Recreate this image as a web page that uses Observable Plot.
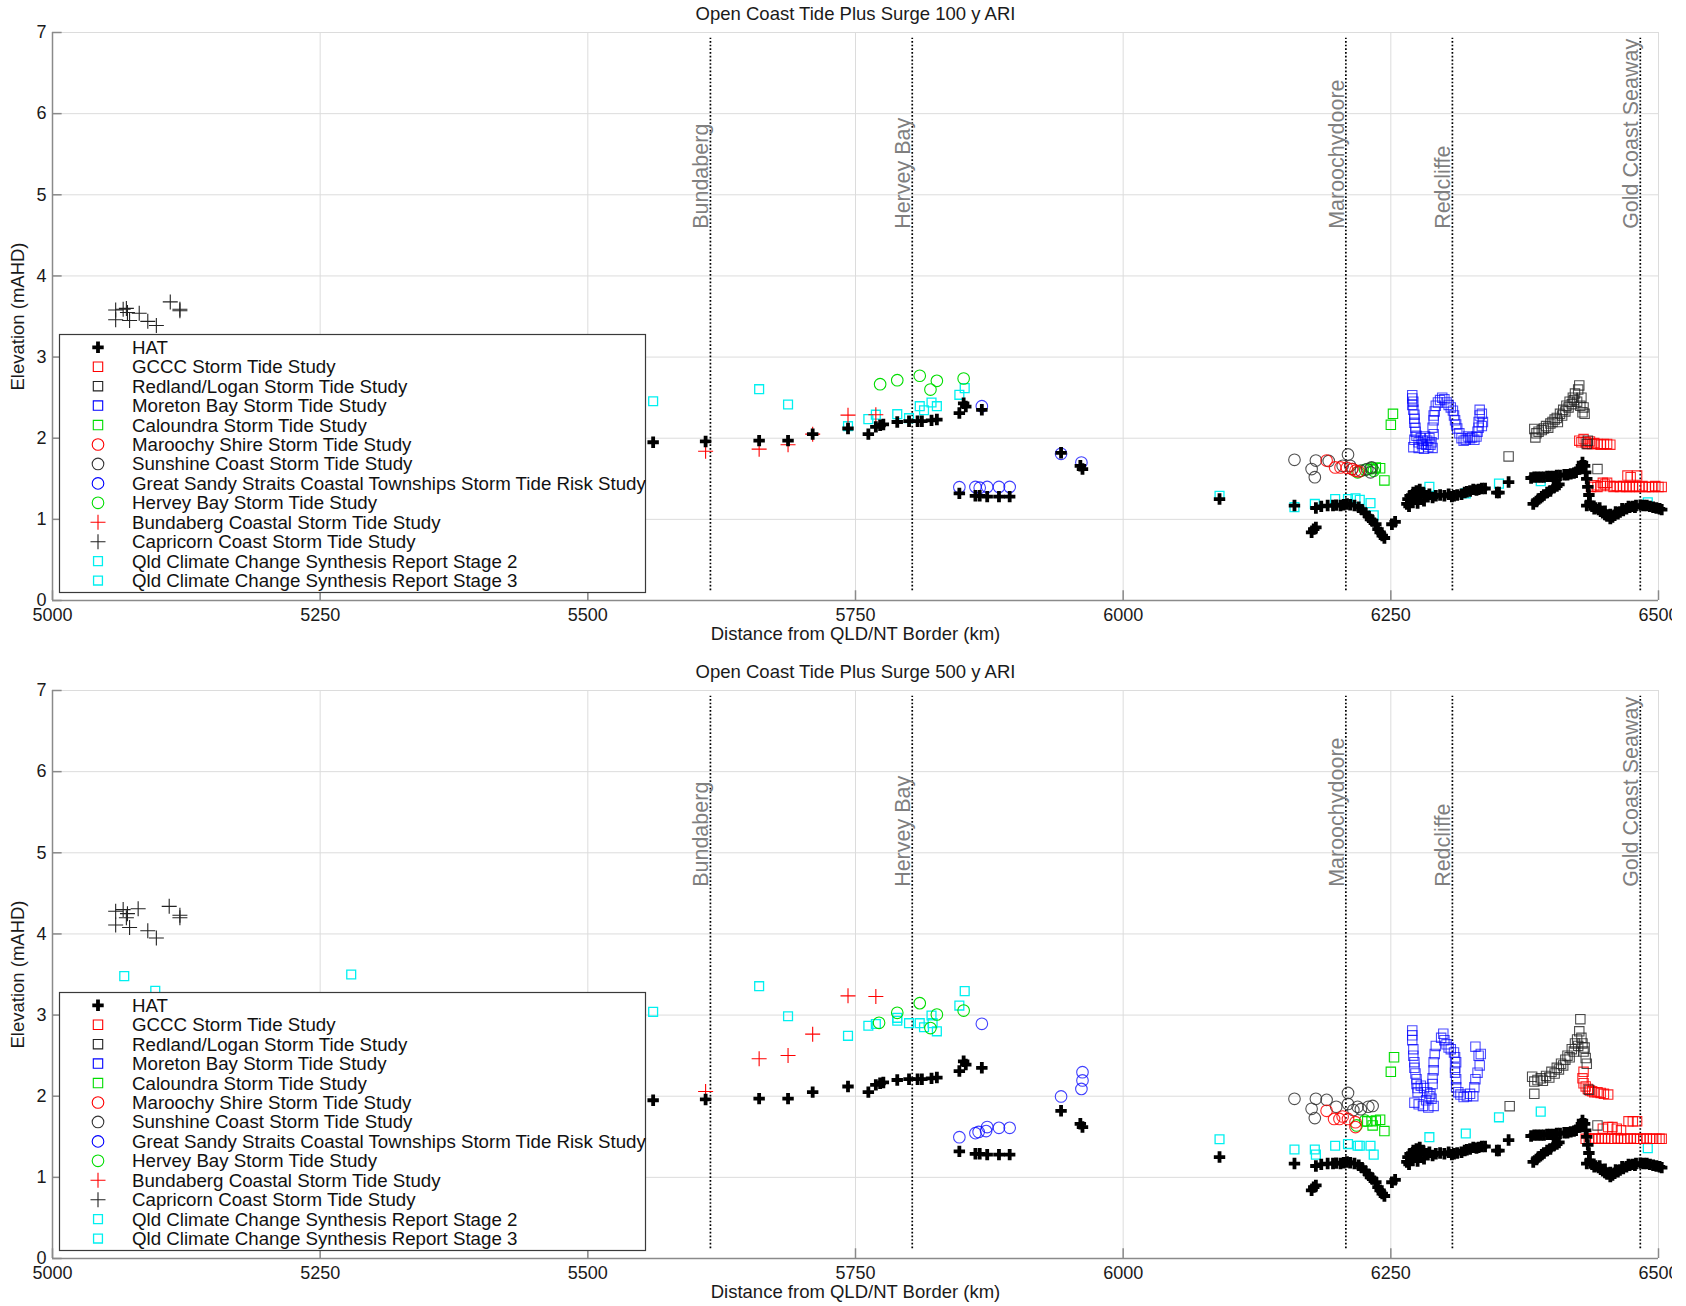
<!DOCTYPE html>
<html><head><meta charset="utf-8">
<script src="https://cdn.jsdelivr.net/npm/d3@7"></script>
<script src="https://cdn.jsdelivr.net/npm/@observablehq/plot@0.6"></script>
<style>
body{margin:0;background:#fff;font-family:"Liberation Sans",Arial,sans-serif;}
#wrap{width:1672px;overflow:hidden;background:#fff}
#wrap svg{display:block;max-width:none !important;width:1686px}
</style></head><body><div id="wrap"></div>
<script>
// ---------- axis ticks & annotations ----------
const xTicks = [5000, 5250, 5500, 5750, 6000, 6250, 6500];
const yTicks = [0, 1, 2, 3, 4, 5, 6, 7];
const places = ["Bundaberg", "Hervey Bay", "Maroochydoore", "Redcliffe", "Gold Coast Seaway"];
const placeKm = [5614.5, 5803, 6208, 6307.5, 6483];
const placeLabelElev = [4.58, 4.58, 4.58, 4.58, 4.58];
const titles = ["Open Coast Tide Plus Surge 100 y ARI", "Open Coast Tide Plus Surge 500 y ARI"];
const xLabel = "Distance from QLD/NT Border (km)";
const yLabel = "Elevation (mAHD)";

// ---------- series names ----------
const seriesNames = [
  "HAT",
  "GCCC Storm Tide Study",
  "Redland/Logan Storm Tide Study",
  "Moreton Bay Storm Tide Study",
  "Caloundra Storm Tide Study",
  "Maroochy Shire Storm Tide Study",
  "Sunshine Coast Storm Tide Study",
  "Great Sandy Straits Coastal Townships Storm Tide Risk Study",
  "Hervey Bay Storm Tide Study",
  "Bundaberg Coastal Storm Tide Study",
  "Capricorn Coast Storm Tide Study",
  "Qld Climate Change Synthesis Report Stage 2",
  "Qld Climate Change Synthesis Report Stage 3"
];

// ---------- data: [km, elevation] ----------
const hat = [
[5561,1.95],[5610,1.96],[5660,1.97],[5687,1.97],[5710,2.05],[5743,2.12],[5762,2.05],[5769,2.14],[5773,2.16],[5776,2.17],[5789,2.2],[5800,2.21],[5808,2.21],[5812,2.21],[5821,2.22],[5826,2.23],[5847,2.31],[5851,2.43],[5853,2.39],[5868,2.35],
[5847,1.32],[5862,1.29],[5866,1.29],[5873,1.28],[5884,1.28],[5894,1.28],
[5942,1.82],[5960,1.66],[5962,1.62],[6090,1.25],
[6160,1.17],[6176,0.84],[6178,0.88],[6180,0.9],
[6180,1.14],[6185,1.16],[6191,1.17],[6196,1.17],[6199,1.175],[6203,1.17],[6206,1.18],[6209,1.19],[6212,1.18],[6216,1.17],[6220,1.15],[6223,1.12],[6226,1.08],[6229,1.04],[6231,1.0],[6233,0.98],[6236,0.94],[6238,0.88],[6240,0.84],[6242,0.8],[6244,0.77],[6251,0.94],[6254,0.97],
[6265,1.19],[6266,1.25],[6267,1.16],[6268,1.29],[6269,1.21],[6271,1.33],[6272,1.25],[6274,1.35],[6275,1.2],[6277,1.37],[6278,1.28],[6280,1.33],[6281,1.23],[6283,1.29],[6286,1.31],[6289,1.27],[6292,1.29],[6296,1.3],[6300,1.29],[6304,1.31],[6307,1.28],[6309,1.29],[6312,1.3],[6316,1.31],[6319,1.33],[6321,1.34],[6324,1.35],[6327,1.37],[6330,1.36],[6332,1.37],[6335,1.38],[6338,1.38],[6349,1.33],[6351,1.33],[6360,1.46],
[6383,1.19],[6386,1.22],[6388,1.25],[6391,1.28],[6393,1.3],[6396,1.33],[6399,1.35],[6402,1.39],[6405,1.41],[6407,1.43],
[6381,1.51],[6384,1.52],[6387,1.52],[6390,1.52],[6393,1.52],[6396,1.53],[6399,1.53],[6402,1.53],[6405,1.54],[6408,1.54],[6412,1.55],[6415,1.55],[6418,1.56],[6421,1.57],[6423,1.58],[6426,1.62],[6428,1.66],[6429,1.7],[6431,1.66],[6432,1.58],[6433,1.5],[6434,1.4],[6435,1.3],[6436,1.21],
[6433,1.17],[6438,1.16],[6441,1.14],[6444,1.12],[6446,1.1],[6448,1.08],[6450,1.06],[6452,1.04],[6455,1.01],[6457,1.03],[6459,1.05],[6462,1.07],[6464,1.09],[6467,1.11],[6470,1.13],[6473,1.15],[6476,1.16],[6479,1.17],[6483,1.175],[6486,1.17],[6489,1.17],[6492,1.16],[6495,1.15],[6498,1.14],[6501,1.13],[6503,1.12],
[6440,1.13],[6445,1.14],[6450,1.1],[6455,1.06],[6460,1.09],[6466,1.13],[6472,1.16],[6478,1.15]
];

// 100 y ARI
const gccc100 = [
[6426,1.97],[6428,1.95],[6430,1.99],[6432,1.95],[6434,1.93],[6436,1.96],[6438,1.93],[6440,1.94],[6443,1.93],[6446,1.92],[6449,1.93],[6452,1.93],[6455,1.92],
[6437,1.40],[6440,1.42],[6443,1.40],[6446,1.41],[6448,1.45],[6450,1.43],[6452,1.45],[6455,1.41],[6458,1.40],[6461,1.41],[6464,1.40],[6467,1.41],[6470,1.40],[6473,1.40],[6476,1.41],[6479,1.40],[6482,1.40],[6485,1.41],[6488,1.40],[6491,1.40],[6494,1.40],[6497,1.41],[6500,1.40],[6503,1.40],[6471,1.54],[6474,1.52],[6480,1.54]
];
const redland100 = [
[6360,1.775],[6384,2.115],[6385,2.01],[6386,2.06],[6388,2.08],[6391,2.1],[6393,2.12],[6395,2.15],[6397,2.13],[6399,2.18],[6401,2.2],[6403,2.23],[6405,2.25],[6406,2.2],[6408,2.3],[6410,2.28],[6411,2.35],[6413,2.33],[6414,2.4],[6416,2.38],[6417,2.45],[6419,2.42],[6420,2.5],[6421,2.47],[6422,2.55],[6424,2.45],[6425,2.6],[6426,2.65],[6427,2.4],[6428,2.5],[6429,2.32],[6430,2.38],[6431,2.3],[6433,1.93],[6434,1.97],[6443,1.62]
];
const moreton100 = [
[6270,2.53],[6270,2.49],[6271,2.45],[6270,2.41],[6271,2.35],[6272,2.29],[6272,2.24],[6272,2.19],[6273,2.13],[6273,2.08],[6274,2.03],[6272,1.98],[6271,1.89],[6276,1.95],[6278,2.0],[6280,1.97],[6282,2.02],[6284,1.97],[6286,2.0],[6288,1.95],[6276,1.88],[6281,1.87],[6285,1.89],[6289,1.88],[6279,1.93],[6283,1.92],[6287,1.92],[6290,2.05],[6289,2.13],[6290,2.22],[6290,2.28],[6291,2.33],[6292,2.4],[6294,2.44],[6296,2.47],[6298,2.5],[6300,2.48],[6302,2.44],[6304,2.41],[6306,2.38],[6308,2.34],[6309,2.28],[6310,2.22],[6311,2.17],[6312,2.12],[6314,2.06],[6316,2.0],[6318,1.97],[6320,1.98],[6322,2.02],[6324,2.0],[6326,2.01],[6328,1.98],[6330,2.02],[6331,2.08],[6332,2.13],[6332,2.2],[6333,2.28],[6333,2.35],[6335,2.3],[6336,2.2],[6335,2.15]
];
const caloundra100 = [[6252,2.30],[6250,2.165],[6244,1.48],[6240,1.63],[6236,1.64],[6233,1.62]];
const maroochy100 = [[6190,1.725],[6198,1.64],[6203,1.64],[6209,1.635],[6214,1.62],[6217,1.6],[6220,1.59]];
const sunshine100 = [[6160,1.734],[6180,1.725],[6176,1.62],[6179,1.52],[6210,1.80],[6192,1.72],[6205,1.66],[6214,1.62],[6222,1.6],[6228,1.62],[6232,1.64],[6231,1.58],[6212,1.66]];
const greatSandy100 = [[5847,1.397],[5862,1.40],[5866,1.39],[5873,1.40],[5884,1.40],[5894,1.40],[5868,2.395],[5942,1.808],[5961,1.70]];
const herveyBay100 = [[5773,2.666],[5789,2.715],[5810,2.77],[5826,2.707],[5820,2.6],[5851,2.736],[6219,1.58],[6226,1.61],[6231,1.63],[6234,1.6]];
const bundaberg100 = [[5610,1.84],[5660,1.865],[5687,1.92],[5710,2.05],[5743,2.284],[5769,2.29]];
const capricorn100 = [[5059,3.58],[5059,3.46],[5066,3.59],[5069,3.6],[5070,3.55],[5072,3.45],[5081,3.54],[5089,3.44],[5097,3.39],[5110,3.68],[5119,3.57],[5119,3.59]];
const stage2_100 = [[5561,2.456],[5660,2.604],[5687,2.415],[5743,2.148],[5762,2.235],[5769,2.29],[5789,2.296],[5800,2.247],[5810,2.395],[5814,2.345],[5821,2.44],[5826,2.395],[5847,2.535],[5852,2.617]];
const stage3_100 = [[6090,1.29],[6160,1.15],[6179,1.19],[6198,1.25],[6210,1.25],[6217,1.26],[6221,1.24],[6231,1.2],[6234,1.05],[6286,1.40],[6320,1.32],[6351,1.44],[6390,1.47],[6490,1.21]];

// 500 y ARI
const gccc500 = [
[6430,2.30],[6429,2.22],[6430,2.16],[6432,2.12],[6434,2.09],[6436,2.07],[6438,2.06],[6440,2.05],[6443,2.05],[6446,2.04],[6449,2.03],[6453,2.02],
[6432,1.475],[6435,1.475],[6438,1.475],[6441,1.48],[6444,1.475],[6447,1.475],[6450,1.48],[6453,1.475],[6456,1.475],[6459,1.475],[6462,1.48],[6465,1.475],[6468,1.475],[6471,1.475],[6474,1.48],[6477,1.475],[6480,1.475],[6483,1.475],[6486,1.475],[6489,1.48],[6492,1.475],[6495,1.475],[6498,1.475],[6501,1.475],[6503,1.475],
[6448,1.60],[6453,1.62],[6457,1.62],[6461,1.6],[6465,1.58],[6472,1.69],[6476,1.69],[6480,1.69]
];
const redland500 = [
[6361,1.877],[6382,2.24],[6384,2.03],[6384,2.18],[6387,2.2],[6390,2.22],[6392,2.19],[6395,2.25],[6398,2.23],[6400,2.3],[6403,2.28],[6405,2.35],[6407,2.33],[6409,2.4],[6411,2.38],[6413,2.45],[6415,2.5],[6417,2.48],[6419,2.58],[6421,2.55],[6422,2.65],[6424,2.7],[6425,2.62],[6426,2.8],[6427,2.95],[6428,2.72],[6429,2.65],[6430,2.55],[6431,2.6],[6432,2.47],[6433,2.4],[6435,2.08],[6443,1.64]
];
const moreton500 = [
[6270,2.81],[6270,2.75],[6270,2.69],[6271,2.58],[6271,2.5],[6272,2.42],[6272,2.35],[6273,2.28],[6274,2.21],[6274,2.15],[6275,2.1],[6275,2.05],[6272,1.92],[6276,1.9],[6280,1.88],[6285,1.86],[6290,1.88],[6278,2.13],[6281,2.1],[6284,2.05],[6286,2.0],[6288,1.97],[6283,1.95],[6287,2.03],[6290,2.32],[6290,2.42],[6291,2.52],[6292,2.62],[6289,2.22],[6289,2.15],[6297,2.72],[6299,2.77],[6300,2.69],[6302,2.64],[6304,2.6],[6306,2.58],[6309,2.54],[6310,2.48],[6311,2.42],[6310,2.35],[6310,2.29],[6311,2.21],[6311,2.11],[6313,2.05],[6315,2.02],[6318,1.99],[6321,2.0],[6324,2.03],[6327,2.0],[6328,2.11],[6329,2.21],[6331,2.29],[6333,2.38],[6332,2.5],[6329,2.61],[6334,2.52]
];
const caloundra500 = [[6253,2.48],[6250,2.30],[6244,1.57],[6240,1.71],[6236,1.7],[6232,1.69],[6228,1.69],[6233,1.64]];
const maroochy500 = [[6190,1.82],[6197,1.72],[6202,1.72],[6210,1.72],[6217,1.68],[6217,1.62],[6205,1.75]];
const sunshine500 = [[6160,1.968],[6180,1.968],[6190,1.955],[6176,1.845],[6179,1.73],[6199,1.87],[6210,2.04],[6210,1.905],[6219,1.87],[6222,1.84],[6229,1.87],[6233,1.88],[6215,1.83]];
const greatSandy500 = [[5847,1.495],[5862,1.545],[5865,1.56],[5872,1.57],[5873,1.62],[5884,1.61],[5894,1.61],[5868,2.892],[5942,1.997],[5962,2.296],[5962,2.194],[5961,2.09]];
const herveyBay500 = [[5772,2.905],[5789,3.028],[5810,3.147],[5826,3.007],[5820,2.84],[5851,3.056],[6218,1.64],[6226,1.7]];
const bundaberg500 = [[5610,2.058],[5660,2.461],[5687,2.502],[5710,2.765],[5743,3.237],[5769,3.229]];
const capricorn500 = [[5059,4.28],[5066,4.30],[5070,4.25],[5069,4.20],[5080,4.31],[5059,4.11],[5072,4.08],[5089,4.04],[5097,3.95],[5109,4.34],[5119,4.23],[5119,4.20]];
const stage2_500 = [[5067,3.48],[5096,3.30],[5279,3.50],[5561,3.04],[5660,3.356],[5687,2.986],[5743,2.744],[5762,2.868],[5769,2.89],[5789,2.966],[5789,2.93],[5800,2.9],[5810,2.9],[5814,2.85],[5821,2.995],[5822,2.9],[5826,2.8],[5847,3.117],[5852,3.295]];
const stage3_500 = [[6090,1.47],[6160,1.343],[6179,1.343],[6180,1.28],[6198,1.39],[6210,1.41],[6219,1.39],[6221,1.39],[6231,1.39],[6234,1.28],[6286,1.495],[6320,1.54],[6351,1.74],[6390,1.81],[6490,1.36]];

// ---------- marker styles (per series, legend order) ----------
const styles = [
  {sym: "cross",  color: "#000",    r: 4.8, fill: true,  sw: 0},
  {sym: "square", color: "#ff0000", r: 5.3, fill: false, sw: 1.1, op: 0.85},
  {sym: "square", color: "#222",    r: 5.3, fill: false, sw: 1.1, op: 0.8},
  {sym: "square", color: "#0000ff", r: 5.3, fill: false, sw: 1.1, op: 0.7},
  {sym: "square", color: "#00dd00", r: 5.3, fill: false, sw: 1.1},
  {sym: "circle", color: "#ff0000", r: 5.8, fill: false, sw: 1.1, op: 0.85},
  {sym: "circle", color: "#333",    r: 5.8, fill: false, sw: 1.1, op: 0.85},
  {sym: "circle", color: "#0000ff", r: 5.8, fill: false, sw: 1.1, op: 0.75},
  {sym: "circle", color: "#00dd00", r: 5.8, fill: false, sw: 1.1},
  {sym: "plus",   color: "#ff0000", r: 4.9, fill: false, sw: 1.1},
  {sym: "plus",   color: "#222",    r: 4.9, fill: false, sw: 1.1},
  {sym: "square", color: "#00f0f0", r: 5.0, fill: false, sw: 1.3},
  {sym: "square", color: "#00f0f0", r: 5.0, fill: false, sw: 1.3}
];

const panels = [
  {title: titles[0], height: 658, mb: 58,
   series: [hat, gccc100, redland100, moreton100, caloundra100, maroochy100, sunshine100, greatSandy100, herveyBay100, bundaberg100, capricorn100, stage2_100, stage3_100]},
  {title: titles[1], height: 648, mb: 48,
   series: [hat, gccc500, redland500, moreton500, caloundra500, maroochy500, sunshine500, greatSandy500, herveyBay500, bundaberg500, capricorn500, stage2_500, stage3_500]}
];

const placeData = places.map((name, i) => ({name, km: placeKm[i], elev: placeLabelElev[i]}));
const FONT = "Liberation Sans, Arial, Helvetica, sans-serif";
const symbolMap = {cross: d3.symbolCross, square: d3.symbolSquare, circle: d3.symbolCircle, plus: d3.symbolPlus};

function dotMark(data, s) {
  return Plot.dot(data, {
    x: d => d[0], y: d => d[1], symbol: s.sym, r: s.r,
    fill: s.fill ? s.color : "none",
    stroke: s.fill ? "none" : s.color,
    strokeWidth: s.sw || 1,
    strokeOpacity: s.op ?? 1
  });
}

const wrap = document.getElementById("wrap");
panels.forEach(p => {
  // draw order: studies first, HAT on top
  const order = [11, 12, 10, 9, 8, 7, 4, 1, 2, 3, 6, 5, 0];
  const svg = Plot.plot({
    width: 1686, height: p.height,
    marginLeft: 52, marginRight: 28, marginTop: 32, marginBottom: p.mb,
    style: {fontFamily: FONT, fontSize: "17px", color: "#1a1a1a", background: "#fff"},
    x: {domain: [5000, 6500]},
    y: {domain: [0, 7]},
    marks: [
      Plot.gridX(xTicks, {stroke: "#dcdcdc", strokeOpacity: 1, strokeWidth: 1}),
      Plot.gridY(yTicks, {stroke: "#dcdcdc", strokeOpacity: 1, strokeWidth: 1}),
      Plot.ruleX([5000], {stroke: "#8a8a8a", strokeWidth: 1.5}),
      Plot.ruleY([0], {stroke: "#8a8a8a", strokeWidth: 1.5}),
      Plot.ruleX(xTicks, {y1: 0, y2: 0.12, stroke: "#8a8a8a", strokeWidth: 1.5}),
      Plot.ruleY(yTicks, {x1: 5000, x2: 5009, stroke: "#8a8a8a", strokeWidth: 1.5}),
      Plot.axisX(xTicks, {tickSize: 0, tickPadding: 8, fontSize: 18, tickFormat: d3.format("d"), label: null}),
      Plot.axisY(yTicks, {tickSize: 0, tickPadding: 6, fontSize: 18, tickFormat: d3.format("d"), label: null}),
      Plot.ruleX(placeData, {x: "km", y1: 0.12, y2: 6.93, stroke: "#000", strokeWidth: 1.7, strokeDasharray: "1.7,2"}),
      Plot.text(placeData, {x: "km", y: "elev", text: "name", rotate: -90, textAnchor: "start", lineAnchor: "bottom", dx: -2, fill: "#7f7f7f", fontSize: 21.5}),
      ...order.map(i => dotMark(p.series[i], styles[i])),
      Plot.text([p.title], {frameAnchor: "top", dy: -18, textAnchor: "middle", lineAnchor: "middle", fontSize: 18.5, fill: "#1a1a1a"}),
      Plot.text([xLabel], {frameAnchor: "bottom", dy: 34, textAnchor: "middle", lineAnchor: "middle", fontSize: 18.5, fill: "#1a1a1a"}),
      Plot.text([yLabel], {frameAnchor: "left", dx: -34, rotate: -90, textAnchor: "middle", lineAnchor: "middle", fontSize: 18.5, fill: "#1a1a1a"})
    ]
  });
  // legend box (on top of data, inside the axes)
  const g = d3.select(svg).append("g").attr("font-family", FONT).attr("font-size", 18.7).attr("text-anchor", "start");
  const lx = 59, ly = 334, lw = 586, lh = 258, row0 = 347.3, rowStep = 19.44;
  g.append("rect").attr("x", lx + 0.5).attr("y", ly + 0.5).attr("width", lw).attr("height", lh)
    .attr("fill", "#fff").attr("stroke", "#3a3a3a").attr("stroke-width", 1.2);
  seriesNames.forEach((name, i) => {
    const s = styles[i];
    const cy = row0 + i * rowStep;
    g.append("path")
      .attr("transform", `translate(98,${cy})`)
      .attr("d", d3.symbol(symbolMap[s.sym], Math.PI * s.r * s.r)())
      .attr("fill", s.fill ? s.color : "none")
      .attr("stroke", s.fill ? "none" : s.color)
      .attr("stroke-width", s.sw || 1);
    g.append("text").attr("x", 132).attr("y", cy).attr("dy", "0.35em").attr("fill", "#111").text(name);
  });
  wrap.appendChild(svg);
});
</script>
</body></html>
